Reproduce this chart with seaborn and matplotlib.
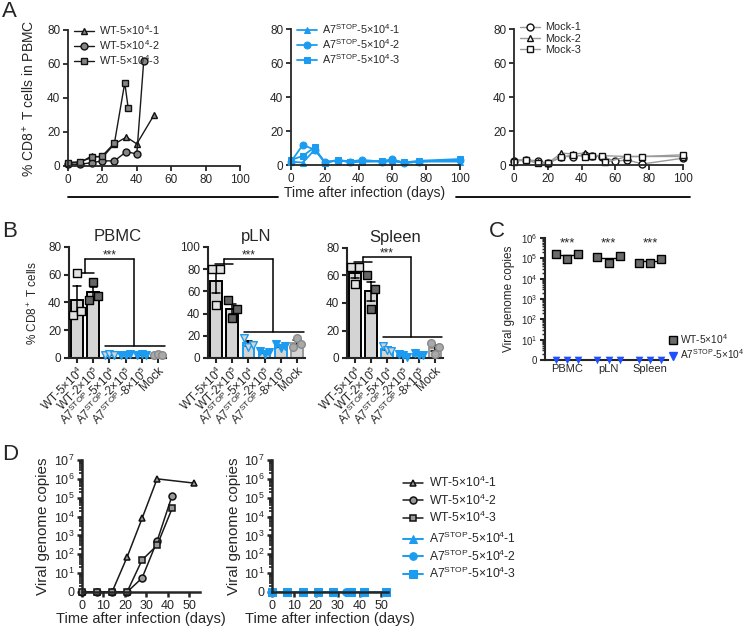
import numpy as np
import pandas as pd
import matplotlib
matplotlib.use("Agg")
import matplotlib.pyplot as plt
import seaborn as sns
from matplotlib.lines import Line2D
from matplotlib.ticker import FixedLocator, LogLocator, FuncFormatter, NullFormatter

# ---------------- data ----------------
# A: % CD8+ T cells in PBMC over time
a_wt1_day = [0, 7, 14, 20, 27, 34, 40, 50]
a_wt1_val = [2, 2, 6, 5, 13, 17, 13, 30]
a_wt2_day = [0, 7, 14, 20, 27, 34, 40, 44]
a_wt2_val = [1, 1, 2, 3, 3, 8.5, 7, 61.5]
a_wt3_day = [0, 7, 14, 20, 27, 33, 35]
a_wt3_val = [2, 2.5, 5, 6, 13.5, 49, 34]

a_a7_day = [0, 7, 14, 20, 28, 35, 42, 54, 60, 67, 76, 100]
a_a71_val = [2, 1.4, 9, 1.5, 3, 2, 2, 2, 2, 1.5, 2, 2]
a_a72_val = [2, 11.8, 9, 2, 2.5, 2, 3, 2, 3.5, 1, 2, 3]
a_a73_val = [3, 5.3, 10.5, 1, 3, 1.5, 2, 2.5, 3, 1.5, 2.5, 3.5]

a_mk1_day = [0, 7, 14, 20, 28, 35, 42, 46, 52, 60, 67, 76, 100]
a_mk1_val = [2.5, 3, 2.5, 1, 5, 5, 6, 5.5, 5, 2.2, 3, 0.6, 4]
a_mk2_day = [0, 7, 14, 20, 28, 35, 42, 46, 52, 67, 76, 100]
a_mk2_val = [3, 3, 2, 1, 7, 6.5, 7, 5.5, 5.5, 5, 5, 5]
a_mk3_day = [0, 7, 14, 20, 28, 35, 42, 46, 52, 54, 67, 76, 100]
a_mk3_val = [2, 3, 1, 1, 4.5, 6, 5, 5.5, 5.5, 1.5, 5, 5, 6]

# B: % CD8+ T cells per tissue, 3 mice per group
b_groups = ["wt5e4", "wt2e5", "a75e4", "a72e5", "a78e5", "mock"]
b_labels = ["WT-5×10$^4$", "WT-2×10$^5$", "A7$^{STOP}$-5×10$^4$",
            "A7$^{STOP}$-2×10$^5$", "A7$^{STOP}$-8×10$^5$", "Mock"]
b_pbmc = [[31, 61, 34], [42, 55, 45], [2, 3, 2], [2, 2, 3], [2, 3, 2], [2, 3, 2]]
b_pln = [[80, 48, 80], [52, 36, 44], [18, 10, 12], [6, 4, 5], [13, 9, 11], [10, 18, 13]]
b_spleen = [[66, 54, 66], [60, 36, 50], [9, 6, 5], [3, 2, 1], [4, 2, 2], [11, 3, 8]]

# C: viral genome copies per tissue
c_tissues = ["PBMC", "pLN", "Spleen"]
c_wt = [[1.6e5, 9e4, 1.7e5], [1.1e5, 6e4, 1.35e5], [6e4, 6e4, 9e4]]
c_a7 = [[0, 0, 0], [0, 0, 0], [0, 0, 0]]

# D: viral genome copies in PBMC over time
d_wt1_day = [0, 7, 14, 21, 28, 35, 52]
d_wt1_val = [0, 0, 0, 70, 8000, 1e6, 6e5]
d_wt2_day = [0, 7, 14, 21, 28, 35, 42]
d_wt2_val = [0, 0, 0, 0, 5.5, 500, 1.3e5]
d_wt3_day = [0, 7, 14, 21, 28, 35, 42]
d_wt3_val = [0, 0, 0, 0, 50, 300, 2.7e4]
d_a71_day = [0, 7, 14, 21, 28, 35, 42, 52]
d_a72_day = [0, 7, 14, 21, 28, 34, 42, 52]
d_a73_day = [0, 7, 14, 21, 28, 36, 42, 52]
d_a71_val = [0, 0, 0, 0, 0, 0, 0, 0]
d_a72_val = [0, 0, 0, 0, 0, 0, 0, 0]
d_a73_val = [0, 0, 0, 0, 0, 0, 0, 0]

# ---------------- style ----------------
sns.set_style("ticks")
plt.rcParams['font.family'] = ['Liberation Sans', 'DejaVu Sans']
plt.rcParams['mathtext.fontset'] = 'custom'
plt.rcParams['mathtext.rm'] = 'Liberation Sans'
plt.rcParams['mathtext.it'] = 'Liberation Sans:italic'
plt.rcParams['mathtext.bf'] = 'Liberation Sans:bold'
plt.rcParams['mathtext.default'] = 'regular'

BLUE = "#1c9cf0"
BLUE_C = "#1f50ff"
GREY_M = "#858585"
BAR = "#d4d4d4"

W, H = 751, 630
fig = plt.figure(figsize=(W / 100, H / 100), dpi=100)


def add_ax(x0, x1, y0, y1):
    # pixel box -> figure fraction
    return fig.add_axes([x0 / W, 1 - y1 / H, (x1 - x0) / W, (y1 - y0) / H])


def style_ax(ax, lw, size):
    sns.despine(ax=ax)
    for s in ("left", "bottom"):
        ax.spines[s].set_linewidth(lw)
    ax.tick_params(width=lw, length=3.5, labelsize=size, pad=2)
    ax.tick_params(which="minor", width=lw * 0.7, length=2)


def clip_off(ax):
    # seaborn leaves empty scatter collections behind; unclipped they draw at the origin
    for c in list(ax.collections):
        if type(c).__name__ == "PathCollection" and len(c.get_offsets()) == 0:
            c.remove()
    for a in ax.lines + ax.collections:
        a.set_clip_on(False)


def log_fmt(v, pos):
    if v <= 1:
        return "0"
    return r"$10^{%d}$" % round(np.log10(v))


# ---------------- panel A ----------------
axA = [add_ax(68, 240, 30, 166), add_ax(291, 460, 29, 165), add_ax(514, 683, 29, 165)]

wt_series = [(a_wt1_day, a_wt1_val, "^", "WT-5×10$^4$-1"),
             (a_wt2_day, a_wt2_val, "o", "WT-5×10$^4$-2"),
             (a_wt3_day, a_wt3_val, "s", "WT-5×10$^4$-3")]
for d, v, m, lab in wt_series:
    sns.lineplot(x=d, y=v, ax=axA[0], color="#1a1a1a", linewidth=1, marker=m, markersize=5,
                 markerfacecolor=GREY_M, markeredgecolor="#111111", markeredgewidth=1, label=lab)

a7_series = [(a_a7_day, a_a71_val, "^", "A7$^{STOP}$-5×10$^4$-1"),
             (a_a7_day, a_a72_val, "o", "A7$^{STOP}$-5×10$^4$-2"),
             (a_a7_day, a_a73_val, "s", "A7$^{STOP}$-5×10$^4$-3")]
for d, v, m, lab in a7_series:
    sns.lineplot(x=d, y=v, ax=axA[1], color=BLUE, linewidth=1.3, marker=m, markersize=5,
                 markerfacecolor=BLUE, markeredgecolor=BLUE, label=lab)

mk_series = [(a_mk1_day, a_mk1_val, "o", "Mock-1"),
             (a_mk2_day, a_mk2_val, "^", "Mock-2"),
             (a_mk3_day, a_mk3_val, "s", "Mock-3")]
for d, v, m, lab in mk_series:
    sns.lineplot(x=d, y=v, ax=axA[2], color="#9a9a9a", linewidth=1, marker=m, markersize=5,
                 markerfacecolor="white", markeredgecolor="#111111", markeredgewidth=1, label=lab)

for i, ax in enumerate(axA):
    ax.set_xlim(0, 100)
    ax.set_ylim(0, 80)
    ax.set_xticks(range(0, 101, 20))
    ax.set_yticks(range(0, 81, 20))
    ax.set_xlabel("")
    style_ax(ax, 1.3, 8.5)
    clip_off(ax)
    ax.legend(loc="upper left", bbox_to_anchor=(0.01, 1.08), frameon=False, fontsize=7.8,
              handlelength=1.8, handletextpad=0.5, labelspacing=0.1, borderaxespad=0)
axA[0].set_ylabel("% CD8$^+$ T cells in PBMC", fontsize=10)
axA[0].yaxis.set_label_coords(-0.18, 0.5)

fig.text(365 / W, 1 - 193 / H, "Time after infection (days)", ha="center", va="center", fontsize=10)
fig.add_artist(Line2D([68 / W, 278 / W], [1 - 197 / H] * 2, color="black", lw=1.3))
fig.add_artist(Line2D([456 / W, 690 / W], [1 - 197 / H] * 2, color="black", lw=1.3))

# ---------------- panel B ----------------
b_face = ["#e2e2e2", "#666666", "#d4d4d4", BLUE, BLUE, "#a9a9a9"]
b_medge = ["black", "black", BLUE, BLUE, BLUE, "#8a8a8a"]
b_marker = ["s", "s", "v", "v", "v", "o"]
b_edge = ["black", "black", BLUE, BLUE, BLUE, "#999999"]

b_panels = [(add_ax(69, 166, 247, 358), b_pbmc, "PBMC", 80, (61, 71, 9)),
            (add_ax(208, 305, 247, 358), b_pln, "pLN", 100, (85, 89, 23)),
            (add_ax(347, 443, 248, 358), b_spleen, "Spleen", 80, (70, 73.5, 15))]

for ax, vals, title, ymax, (yw, yt, yl) in b_panels:
    df = pd.DataFrame({"group": np.repeat(b_groups, 3),
                       "rep": ["r1", "r2", "r3"] * len(b_groups),
                       "val": np.ravel(vals)})
    sns.barplot(data=df, x="group", y="val", order=b_groups, errorbar="se", capsize=0.45,
                width=0.72, color=BAR, err_kws={"color": "black", "linewidth": 1.1}, ax=ax)
    for p, ec in zip(ax.patches, b_edge):
        p.set_edgecolor(ec)
        p.set_linewidth(1.4)
    for g, mk, fc, ec in zip(b_groups, b_marker, b_face, b_medge):
        sns.stripplot(data=df[df.group == g], x="group", y="val", hue="rep", order=b_groups,
                      dodge=True, jitter=False, palette=[fc] * 3, marker=mk, size=5.5,
                      linewidth=1, edgecolor=ec, legend=False, ax=ax)
    # significance bracket
    kw = dict(color="black", lw=1.1, clip_on=False)
    ax.plot([-0.05, 1.05], [yw, yw], **kw)
    ax.plot([0.5, 0.5], [yw, yt], **kw)
    ax.plot([0.5, 3.5], [yt, yt], **kw)
    ax.plot([3.5, 3.5], [yt, yl], **kw)
    ax.plot([1.75, 5.45], [yl, yl], **kw)
    ax.text(2.0, yt - ymax * 0.02, "***", ha="center", va="bottom", fontsize=8.5)
    ax.set_xlim(-0.5, 5.5)
    ax.set_ylim(0, ymax)
    ax.set_yticks(range(0, ymax + 1, 20))
    ax.set_xticks(range(len(b_groups)))
    ax.set_xticklabels(b_labels, rotation=45, ha="right", rotation_mode="anchor", fontsize=7)
    ax.set_xlabel("")
    ax.set_ylabel("")
    ax.set_title(title, fontsize=12, pad=4)
    style_ax(ax, 1.5, 8.5)
    ax.tick_params(axis="x", pad=1)
    clip_off(ax)
b_panels[0][0].set_ylabel("% CD8$^+$ T cells", fontsize=8.5)
b_panels[0][0].yaxis.set_label_coords(-0.3, 0.5)

# ---------------- panel C ----------------
axC = add_ax(545, 668, 238, 360)
dfc = pd.DataFrame({"tissue": np.repeat(c_tissues, 3),
                    "rep": ["r1", "r2", "r3"] * len(c_tissues),
                    "wt": np.ravel(c_wt),
                    "a7": np.ravel(c_a7)})
dfc["a7_plot"] = dfc["a7"].clip(lower=1)  # undetected drawn on the "0" baseline
axC.set_yscale("log")
sns.stripplot(data=dfc, x="tissue", y="wt", hue="rep", dodge=True, jitter=False,
              palette=["#6b6b6b"] * 3, marker="s", size=5.2, linewidth=1, edgecolor="black",
              legend=False, ax=axC, zorder=3)
sns.stripplot(data=dfc, x="tissue", y="a7_plot", hue="rep", dodge=True, jitter=False,
              palette=[BLUE_C] * 3, marker="v", size=5.5, linewidth=0, legend=False, ax=axC, zorder=3)
means = dfc.groupby("tissue", sort=False)["wt"].mean()
for i, t in enumerate(c_tissues):
    axC.hlines(means[t], i - 0.27, i + 0.27, color="black", lw=1, zorder=2)
    axC.text(i, 5.3e5, "***", ha="center", va="center", fontsize=9.5)
axC.set_ylim(1, 1e6)
axC.set_xlim(-0.53, 2.43)
axC.yaxis.set_major_locator(FixedLocator([10.0 ** k for k in range(7)]))
axC.yaxis.set_major_formatter(FuncFormatter(log_fmt))
axC.yaxis.set_minor_locator(LogLocator(base=10, subs=np.arange(2, 10), numticks=50))
axC.yaxis.set_minor_formatter(NullFormatter())
axC.set_xlabel("")
axC.set_ylabel("Viral genome copies", fontsize=8.5)
axC.yaxis.set_label_coords(-0.24, 0.5)
style_ax(axC, 1.5, 7)
axC.tick_params(axis="x", labelsize=8, length=0, pad=3)
clip_off(axC)
c_handles = [Line2D([], [], ls="", marker="s", markersize=5.5, markerfacecolor="#6b6b6b",
                    markeredgecolor="black"),
             Line2D([], [], ls="", marker="v", markersize=6, color=BLUE_C)]
axC.legend(c_handles, ["WT-5×10$^4$", "A7$^{STOP}$-5×10$^4$"], loc="center left",
           bbox_to_anchor=(0.97, 0.11), frameon=False, fontsize=7.3, handlelength=0.7,
           handletextpad=0.3, labelspacing=0.2, borderaxespad=0.1)

# ---------------- panel D ----------------
axD = [add_ax(82, 200, 460, 592), add_ax(272, 388, 460, 592)]
d_wt = [(d_wt1_day, d_wt1_val, "^", "WT-5×10$^4$-1"),
        (d_wt2_day, d_wt2_val, "o", "WT-5×10$^4$-2"),
        (d_wt3_day, d_wt3_val, "s", "WT-5×10$^4$-3")]
for d, v, m, lab in d_wt:
    sns.lineplot(x=d, y=np.clip(v, 1, None), ax=axD[0], color="#1a1a1a", linewidth=1.1, marker=m,
                 markersize=5, markerfacecolor="#999999", markeredgecolor="#111111",
                 markeredgewidth=1.1, label=lab)
d_a7 = [(d_a71_day, d_a71_val, "^", "A7$^{STOP}$-5×10$^4$-1"),
        (d_a72_day, d_a72_val, "o", "A7$^{STOP}$-5×10$^4$-2"),
        (d_a73_day, d_a73_val, "s", "A7$^{STOP}$-5×10$^4$-3")]
for d, v, m, lab in d_a7:
    sns.lineplot(x=d, y=np.clip(v, 1, None), ax=axD[1], color=BLUE, linewidth=1.4, marker=m,
                 markersize=5.5, markerfacecolor=BLUE, markeredgecolor=BLUE, label=lab)

for ax, xmax in zip(axD, (55, 53)):
    ax.set_yscale("log")
    ax.set_ylim(1, 1e7)
    ax.set_xlim(0, xmax)
    ax.set_xticks(range(0, 51, 10))
    ax.yaxis.set_major_locator(FixedLocator([10.0 ** k for k in range(8)]))
    ax.yaxis.set_major_formatter(FuncFormatter(log_fmt))
    ax.yaxis.set_minor_locator(LogLocator(base=10, subs=np.arange(2, 10), numticks=50))
    ax.yaxis.set_minor_formatter(NullFormatter())
    ax.set_ylabel("Viral genome copies", fontsize=11)
    ax.yaxis.set_label_coords(-0.27, 0.5)
    ax.set_xlabel("Time after infection (days)", fontsize=10.5)
    ax.xaxis.set_label_coords(0.5, -0.155)
    style_ax(ax, 1.8, 9)
    clip_off(ax)
    h, l = ax.get_legend_handles_labels()
    ax.get_legend().remove()
    fig.legend(h, l, loc="upper left",
               bbox_to_anchor=(398 / W, 1 - (470 if ax is axD[0] else 526) / H),
               frameon=False, fontsize=8.7, handlelength=1.7, handletextpad=0.5,
               labelspacing=0.2, borderaxespad=0)

# panel letters
for lab, x, y in [("A", 2, 1), ("B", 2, 221), ("C", 489, 221), ("D", 2, 444)]:
    fig.text(x / W, 1 - y / H, lab, ha="left", va="top", fontsize=16)

fig.savefig("out.png", dpi=100)
